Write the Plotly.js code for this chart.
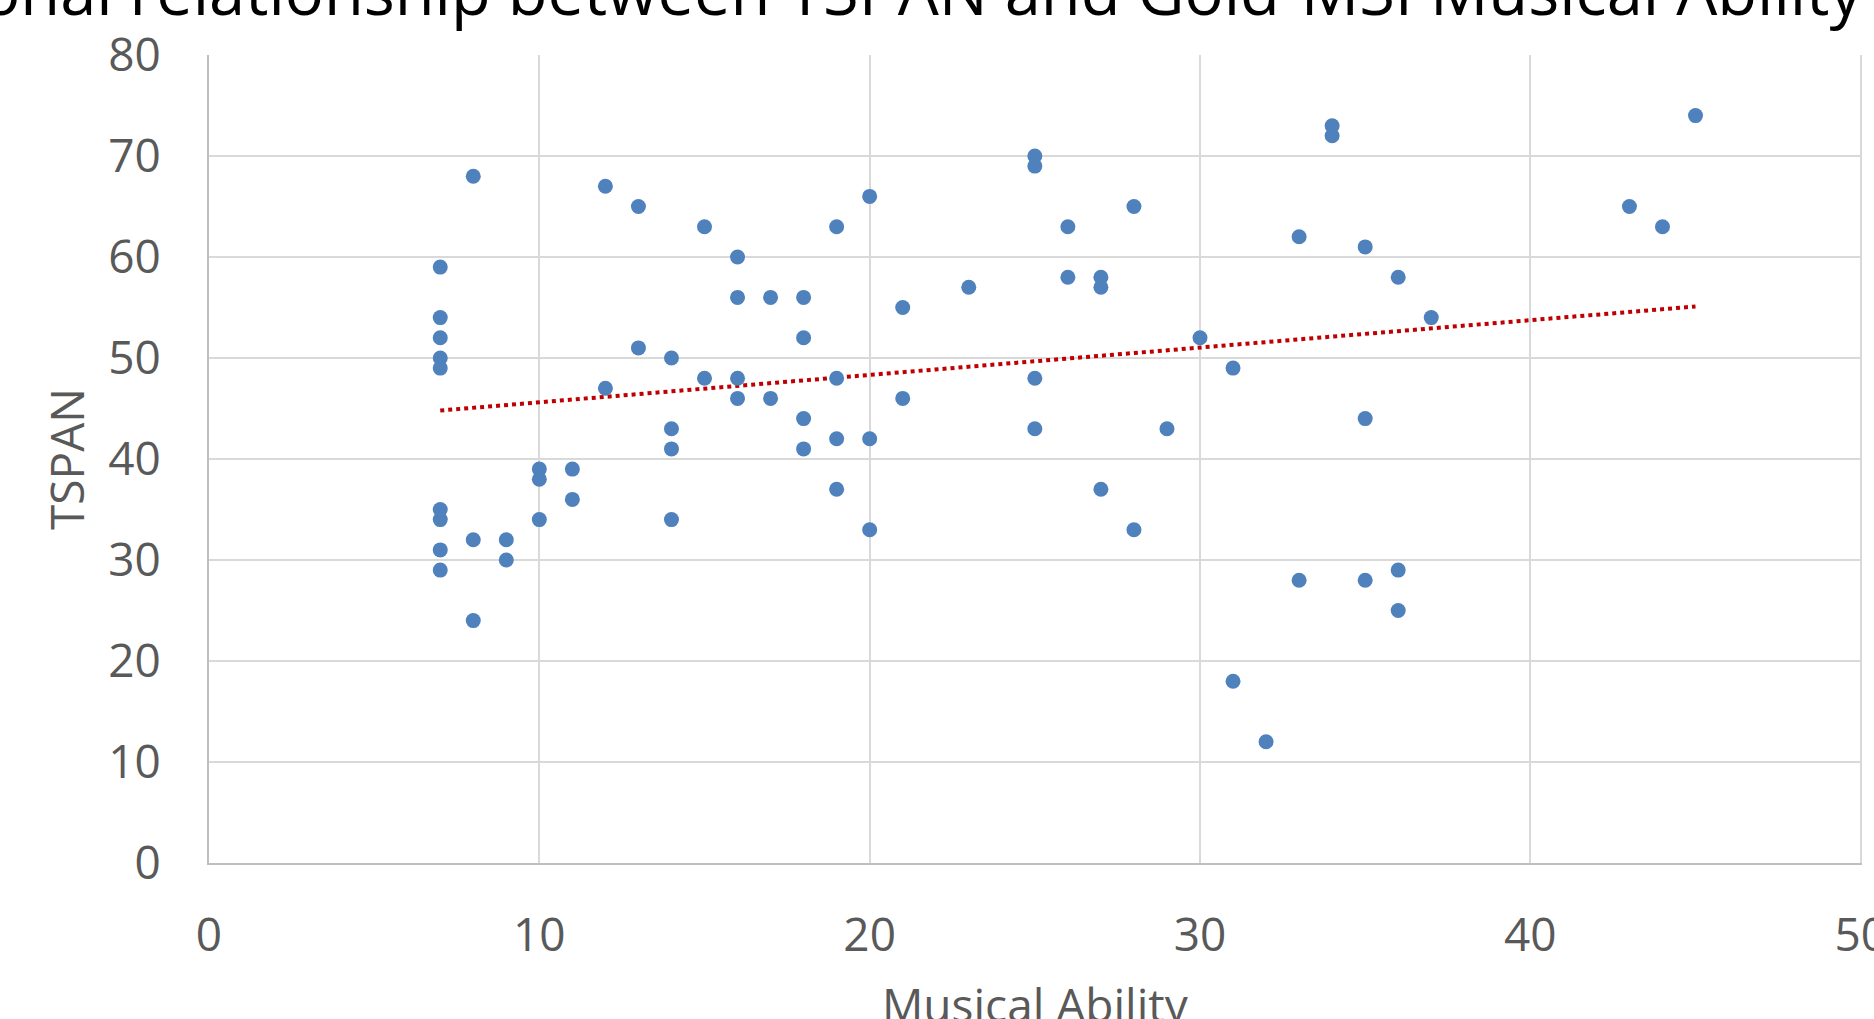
<!DOCTYPE html>
<html>
<head>
<meta charset="utf-8">
<script src="https://cdn.plot.ly/plotly-3.0.1.min.js"></script>
<style>html,body{margin:0;padding:0;background:#fff;overflow:hidden}#chart{width:1874px;height:1019px}</style>
</head>
<body>
<div id="chart"></div>
<script>
// Musical Ability (Gold-MSI) scores
const musicalAbility = [
  7,7,7,7,7,7,7,7,7,
  8,8,8,
  9,9,
  10,10,10,
  11,11,
  12,12,
  13,13,
  14,14,14,14,
  15,15,
  16,16,16,16,
  17,17,
  18,18,18,18,
  19,19,19,19,
  20,20,20,
  21,21,
  23,
  25,25,25,25,
  26,26,
  27,27,27,
  28,28,
  29,
  30,
  31,31,
  32,
  33,33,
  34,34,
  35,35,35,
  36,36,36,
  37,
  43,
  44,
  45
];
// TSPAN scores
const tspan = [
  59,54,52,50,49,35,34,31,29,
  68,32,24,
  32,30,
  39,38,34,
  39,36,
  67,47,
  65,51,
  50,43,41,34,
  63,48,
  60,56,48,46,
  56,46,
  56,52,44,41,
  63,48,42,37,
  66,42,33,
  55,46,
  57,
  70,69,48,43,
  63,58,
  58,57,37,
  65,33,
  43,
  52,
  49,18,
  12,
  62,28,
  73,72,
  61,44,28,
  58,29,25,
  54,
  65,
  63,
  74
];
// Linear trendline (endpoints at the data's x range)
const trendlineX = [7, 45];
const trendlineY = [44.8, 55.1];

const xTicks = [0,10,20,30,40,50];
const yTicks = [0,10,20,30,40,50,60,70,80];
const chartTitle = "Correlational relationship between TSPAN and Gold-MSI Musical Ability";
const xTitle = "Musical Ability";
const yTitle = "TSPAN";

const font = "Open Sans, sans-serif";
const data = [
  {
    type: 'scatter', mode: 'lines', x: trendlineX, y: trendlineY,
    line: {color: '#C00000', width: 4, dash: 'dot'},
    hoverinfo: 'skip', showlegend: false
  },
  {
    type: 'scatter', mode: 'markers', x: musicalAbility, y: tspan,
    marker: {color: '#4F81BD', size: 15, line: {width: 0}},
    showlegend: false
  }
];
const layout = {
  width: 1874, height: 1019,
  margin: {l: 209, r: 12, t: 55, b: 156, pad: 0},
  paper_bgcolor: '#ffffff', plot_bgcolor: '#ffffff',
  font: {family: font, color: '#595959', size: 46},
  showlegend: false,
  title: {
    text: chartTitle,
    font: {family: font, size: 65, color: '#000000'},
    xref: 'paper', x: 1, xanchor: 'right',
    yref: 'container', y: 1 - 15/1019, yanchor: 'bottom'
  },
  xaxis: {
    range: [0, 50.04], tickvals: xTicks, ticktext: xTicks.map(String),
    showgrid: true, gridcolor: '#D9D9D9', gridwidth: 1.5,
    zeroline: false, showline: true, linecolor: '#BFBFBF', linewidth: 2,
    ticks: '', ticklabelstandoff: 31, ticklabeloverflow: 'allow',
    tickfont: {family: font, size: 46, color: '#595959'},
    automargin: false
  },
  yaxis: {
    range: [0, 80], tickvals: yTicks, ticktext: yTicks.map(String),
    showgrid: true, gridcolor: '#D9D9D9', gridwidth: 1.5,
    zeroline: false, showline: true, linecolor: '#BFBFBF', linewidth: 2,
    ticks: '', ticklabelstandoff: 37, ticklabeloverflow: 'allow',
    tickfont: {family: font, size: 46, color: '#595959'},
    title: {text: yTitle, font: {family: font, size: 46, color: '#595959'}, standoff: 9},
    automargin: false
  },
  annotations: [{
    text: xTitle, showarrow: false,
    xref: 'paper', x: 0.5, xanchor: 'center',
    yref: 'paper', y: -0.1745, yanchor: 'middle',
    font: {family: font, size: 46, color: '#595959'}
  }]
};
Plotly.newPlot('chart', data, layout, {displayModeBar: false, responsive: false});
</script>
</body>
</html>
